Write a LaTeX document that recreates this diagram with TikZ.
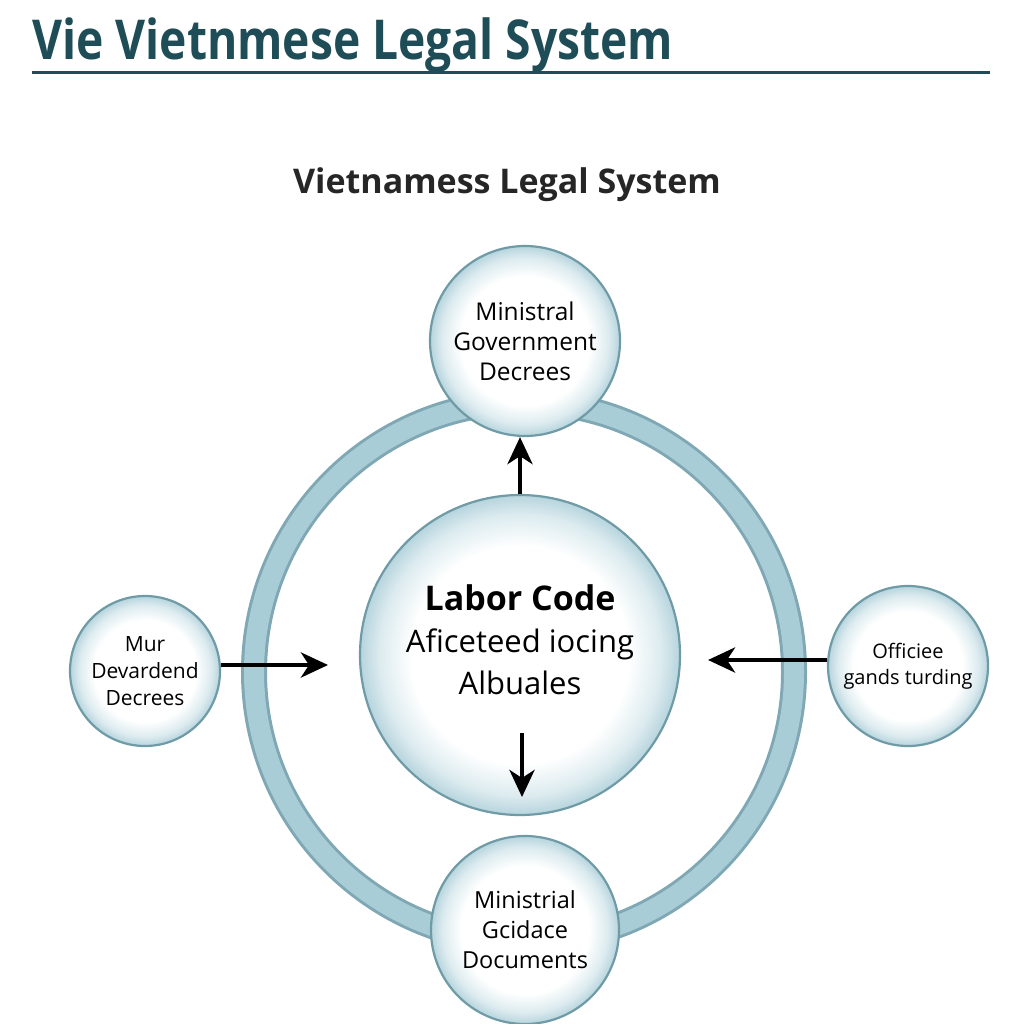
\documentclass[tikz,border=0pt]{standalone}
\usepackage{fontspec}
\setmainfont{Open Sans}
\usetikzlibrary{arrows.meta,positioning}
\definecolor{titleTeal}{HTML}{1E4D57}
\definecolor{ringBlue}{HTML}{A9CDD7}
\definecolor{ringEdge}{HTML}{7FA8B4}
\definecolor{circleEdge}{HTML}{6F9BA7}
\definecolor{bubbleBlue}{HTML}{B6D4DD}
\definecolor{bubbleMid}{HTML}{DCEBEF}
\pgfdeclareradialshading{bubbleShade}{\pgfpoint{0bp}{0bp}}{%
  color(0bp)=(white); color(17bp)=(white); color(22bp)=(bubbleMid); color(25bp)=(bubbleBlue); color(50bp)=(bubbleBlue)}

\begin{document}
\begin{tikzpicture}[x=1pt,y=-1pt,>=Stealth,
  bubble/.style={circle,draw=circleEdge,line width=2.2pt,inner sep=0pt,
    shading=bubbleShade,align=center,text=black},
  flowArrow/.style={-{Stealth[length=27pt,width=25pt,inset=8pt]},line width=4.5pt,black}]
  \useasboundingbox (0,0) rectangle (1024,1024);
  \fill[white] (0,0) rectangle (1024,1024);
  % heading
  \node[anchor=base west,inner sep=0pt,text=titleTeal] (title) at (32,60)
    {\scalebox{0.84}[1]{\fontsize{55}{55}\selectfont\bfseries Vie Vietnmese Legal System}};
  \draw[titleTeal,line width=3pt] (32,73) -- (990,73);
  \node[anchor=base,inner sep=0pt,text=black!85] (subtitle) at (507,194)
    {\fontsize{34}{34}\selectfont\bfseries Vietnamess Legal System};
  % outer ring
  \draw[ringEdge,line width=26pt] (524,672) circle[radius=270];
  \draw[ringBlue,line width=20pt] (524,672) circle[radius=270];
  % circles
  \node[bubble,minimum size=320pt,text depth=30pt,font=\fontsize{31}{42}\selectfont] (labor) at (520,655)
    {{\fontsize{34}{42}\selectfont\bfseries Labor Code}\\Aficeteed iocing\\Albuales};
  \node[bubble,minimum size=190pt,font=\fontsize{24.5}{30}\selectfont] (decreesTop) at (525,341)
    {Ministral\\Government\\Decrees};
  \node[bubble,minimum size=188pt,font=\fontsize{23.5}{30}\selectfont] (guidanceBot) at (525,930)
    {Ministrial\\Gcidace\\Documents};
  \node[bubble,minimum size=150pt,font=\fontsize{21}{27}\selectfont] (murLeft) at (145,671)
    {Mur\\Devardend\\Decrees};
  \node[bubble,minimum size=160pt,font=\fontsize{20}{26}\selectfont] (officeRight) at (908,666)
    {Officiee\\gands turding};
  % arrows
  \coordinate (leftTip) at (328,665);
  \coordinate (rightTip) at (708,660);
  \coordinate (downTail) at (522,733);
  \coordinate (downTip) at (522,797);
  \draw[flowArrow] (labor.north) -- (labor.north |- decreesTop.south);
  \draw[flowArrow] (downTail) -- (downTip);
  \draw[flowArrow] (murLeft.east |- leftTip) -- (leftTip);
  \draw[flowArrow] (officeRight.west |- rightTip) -- (rightTip);
\end{tikzpicture}
\end{document}
